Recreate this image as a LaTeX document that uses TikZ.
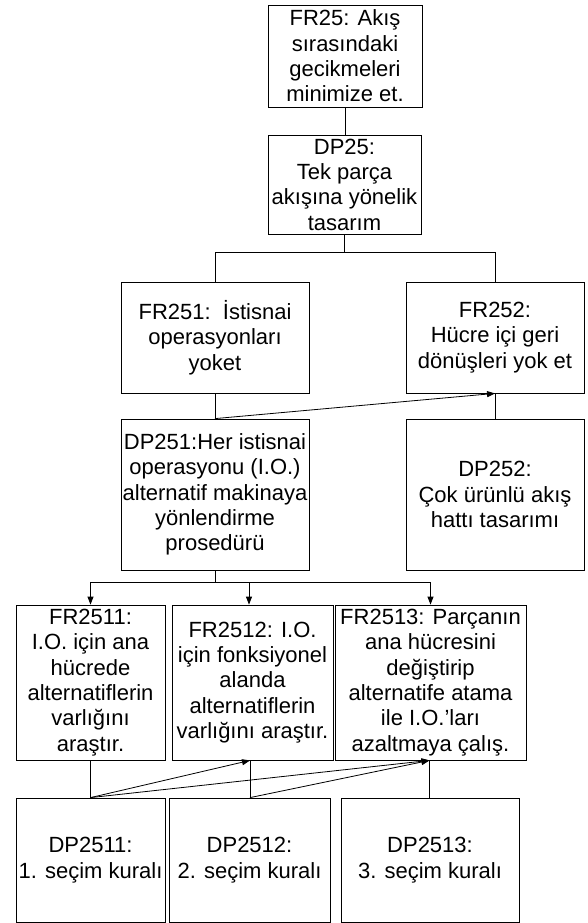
\documentclass[tikz,border=0pt]{standalone}
\usepackage{fontspec}
\setmainfont{Liberation Sans}
\usetikzlibrary{arrows.meta}
\begin{document}
\begin{tikzpicture}[x=1pt,y=-1pt,
  box/.style={draw=black, line width=0.8pt, inner sep=0pt, align=center,
    font={\fontsize{22pt}{25.3pt}\selectfont}},
  conn/.style={draw=black, line width=0.8pt},
  arr/.style={conn, -{Triangle[length=8pt,width=6pt]}}]
\useasboundingbox (0,0) rectangle (588,923);
% boxes
\node[box, minimum width=154pt, minimum height=102pt] (FR25) at (345,56) {FR25: Akış\\sırasındaki\\gecikmeleri\\minimize et.};
\node[box, minimum width=153pt, minimum height=99pt] (DP25) at (344.5,184.5) {DP25:\\Tek parça\\akışına yönelik\\tasarım};
\node[box, minimum width=188pt, minimum height=111pt] (FR251) at (215,337.5) {FR251:\ \ İstisnai\\operasyonları\\yoket};
\node[box, minimum width=178pt, minimum height=111pt] (FR252) at (495,337.5) {FR252:\\Hücre içi geri\\dönüşleri yok et};
\node[box, minimum width=188pt, minimum height=151pt] (DP251) at (215,494.5) {DP251:Her istisnai\\operasyonu (I.O.)\\alternatif makinaya\\yönlendirme\\prosedürü};
\node[box, minimum width=178pt, minimum height=151pt] (DP252) at (495,494.5) {DP252:\\Çok ürünlü akış\\hattı tasarımı};
\node[box, minimum width=149pt, minimum height=155pt] (FR2511) at (90.5,682.5) {FR2511:\\I.O. için ana\\hücrede\\alternatiflerin\\varlığını\\araştır.};
\node[box, minimum width=161pt, minimum height=155pt] (FR2512) at (252.5,682.5) {FR2512: I.O.\\için fonksiyonel\\alanda\\alternatiflerin\\varlığını araştır.};
\node[box, minimum width=191pt, minimum height=155pt] (FR2513) at (430.5,682.5) {FR2513: Parçanın\\ana hücresini\\değiştirip\\alternatife atama\\ile I.O.’ları\\azaltmaya çalış.};
\node[box, minimum width=149pt, minimum height=124pt] (DP2511) at (90.5,860) {DP2511:\\1. seçim kuralı};
\node[box, minimum width=161pt, minimum height=124pt] (DP2512) at (249.5,860) {DP2512:\\2. seçim kuralı};
\node[box, minimum width=178pt, minimum height=124pt] (DP2513) at (430,860) {DP2513:\\3. seçim kuralı};
% junctions and attachment points
\coordinate (j1) at (344.5,252);
\coordinate (j2) at (215,582);
\coordinate (t2512) at ([xshift=-3.5pt]FR2512.north);
\coordinate (b2512) at ([xshift=-2.5pt]FR2512.south);
\coordinate (b2513) at ([xshift=-1pt]FR2513.south);
% connectors
\draw[conn] (DP25.north -| FR25.south) -- (FR25.south);
\draw[conn] (DP25.south) -- (j1);
\draw[conn] (FR251.north) |- (j1);
\draw[conn] (FR252.north) |- (j1);
\draw[conn] (FR251.south) -- (DP251.north);
\draw[conn] (FR252.south) -- (DP252.north);
\draw[arr] (DP251.north) -- (FR252.south);
\draw[conn] (DP251.south) -- (j2);
\draw[arr] (j2) -| (FR2511.north);
\draw[arr] (j2) -| (t2512);
\draw[arr] (j2) -| (FR2513.north);
\draw[conn] (FR2511.south) -- (DP2511.north);
\draw[conn] (b2512) -- (b2512 |- DP2512.north);
\draw[conn] (b2513) -- (b2513 |- DP2513.north);
\draw[arr] (DP2511.north) -- (b2512);
\draw[arr] (DP2511.north) -- (b2513);
\draw[arr] (b2512 |- DP2512.north) -- (b2513);
\end{tikzpicture}
\end{document}
